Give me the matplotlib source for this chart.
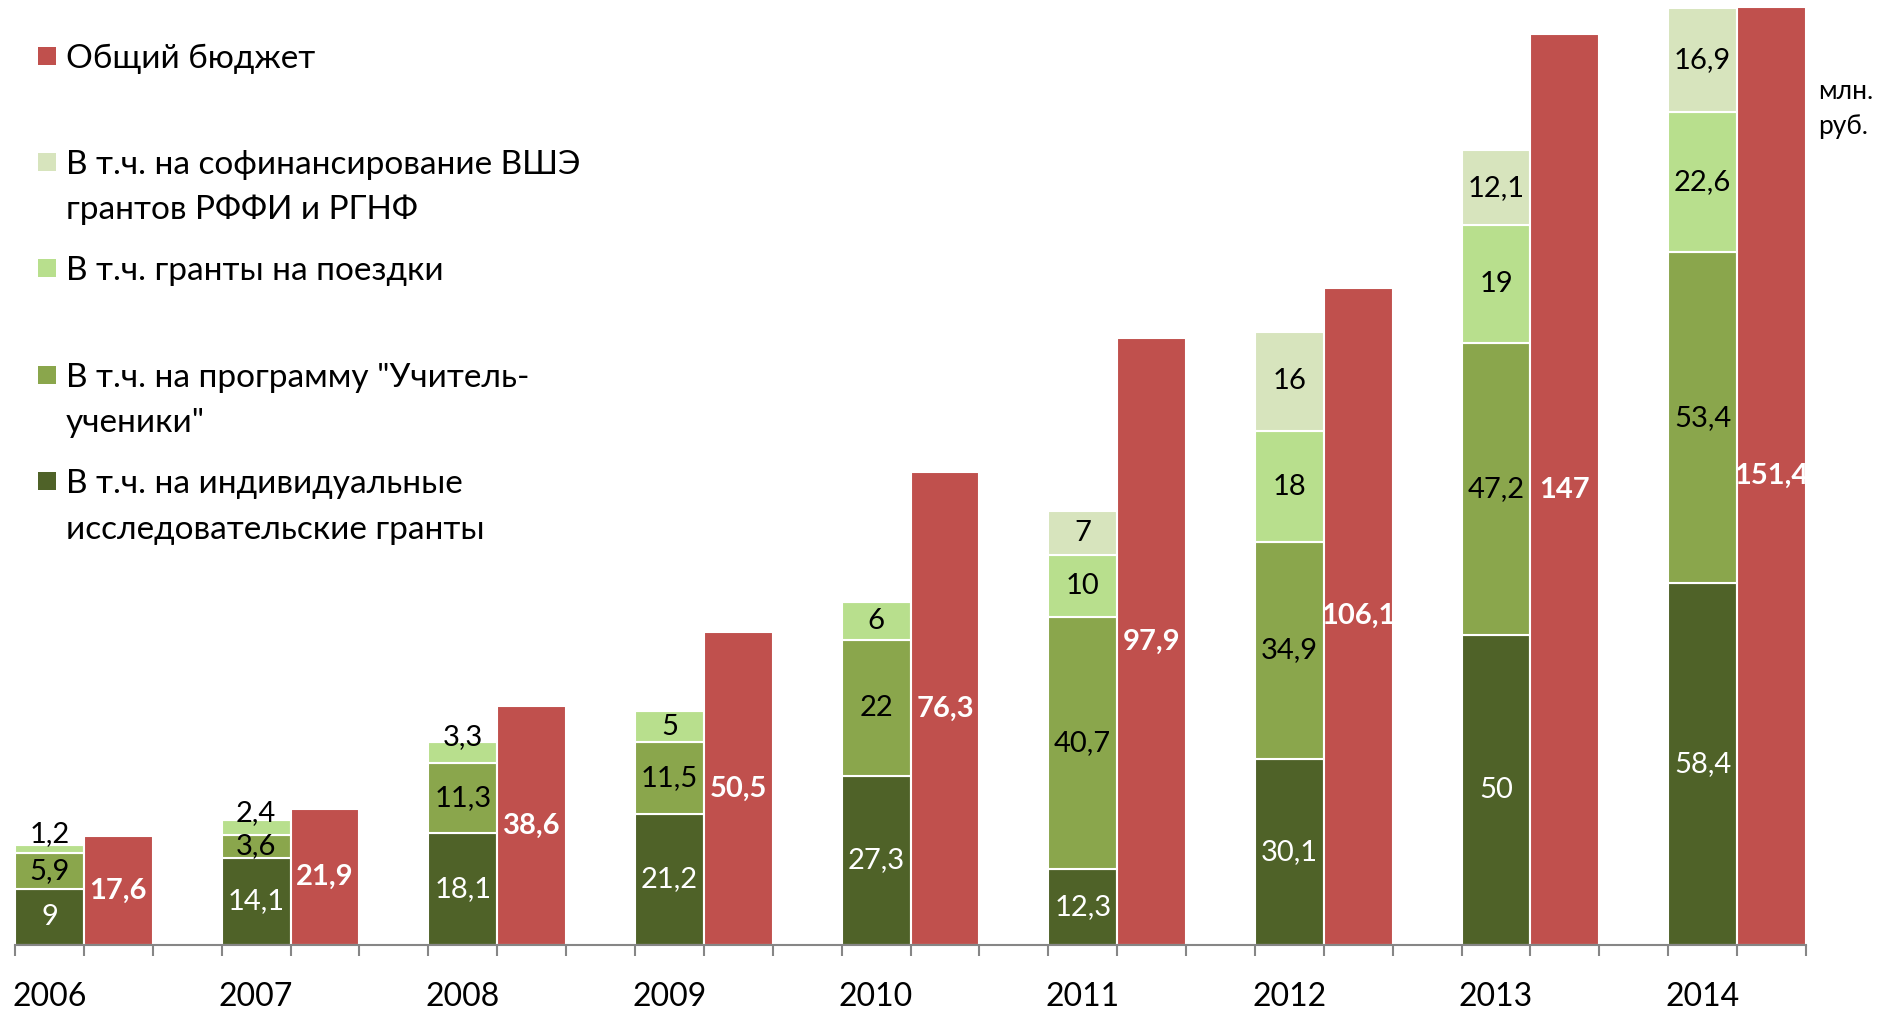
import matplotlib
matplotlib.use("Agg")
import matplotlib.pyplot as plt
from matplotlib.patches import Rectangle
import matplotlib.transforms as mtransforms

plt.rcParams['font.family'] = ['Lato', 'DejaVu Sans']

years = ['2006', '2007', '2008', '2009', '2010', '2011', '2012', '2013', '2014']
individual = [9, 14.1, 18.1, 21.2, 27.3, 12.3, 30.1, 50, 58.4]
teacher = [5.9, 3.6, 11.3, 11.5, 22, 40.7, 34.9, 47.2, 53.4]
trips = [1.2, 2.4, 3.3, 5, 6, 10, 18, 19, 22.6]
cofin = [0, 0, 0, 0, 0, 7, 16, 12.1, 16.9]
total = [17.6, 21.9, 38.6, 50.5, 76.3, 97.9, 106.1, 147, 151.4]

legend_labels = [
    ['Общий бюджет'],
    ['В т.ч. на софинансирование ВШЭ', 'грантов РФФИ и РГНФ'],
    ['В т.ч. гранты на поездки'],
    ['В т.ч. на программу "Учитель-', 'ученики"'],
    ['В т.ч. на индивидуальные', 'исследовательские гранты'],
]
unit_label = ['млн.', 'руб.']

c_red = '#C0504D'
c_dark = '#4F6228'
c_mid = '#8AA64C'
c_light = '#B8DF8D'
c_pale = '#D7E4BD'

W, H = 1878, 1009
fig = plt.figure(figsize=(W / 100, H / 100), dpi=100)
fig.patch.set_facecolor('white')

left, right, bottom, top = 15, 1806, 945, 7
ax = fig.add_axes([left / W, (H - bottom) / H, (right - left) / W, (bottom - top) / H])
ax.set_xlim(0, 26)
ax.set_ylim(0, 151.4)

def fmt(v):
    return ('{:g}'.format(v)).replace('.', ',')

stack_x = [3 * i + 0.5 for i in range(len(years))]
red_x = [3 * i + 1.5 for i in range(len(years))]

series = [(individual, c_dark, 'white'), (teacher, c_mid, 'black'),
          (trips, c_light, 'black'), (cofin, c_pale, 'black')]
base = [0.0] * len(years)
for vals, col, tcol in series:
    ax.bar(stack_x, vals, width=1.0, bottom=base, color=col, edgecolor='white', linewidth=1.5, zorder=2)
    for x, b, v in zip(stack_x, base, vals):
        if v > 0:
            dy = 11 if v < 4 and col == c_light else 0
            ax.annotate(fmt(v), (x, b + v / 2), xytext=(0, dy), textcoords='offset points',
                        ha='center', va='center', color=tcol, fontsize=21, zorder=4,
                        annotation_clip=False)
    base = [b + v for b, v in zip(base, vals)]

ax.bar(red_x, total, width=1.0, color=c_red, edgecolor='white', linewidth=1.5, zorder=2)
for x, v in zip(red_x, total):
    ax.text(x, v / 2, fmt(v), ha='center', va='center', color='white', fontsize=21,
            fontweight='bold', zorder=5, clip_on=False)

for s in ['top', 'right', 'left']:
    ax.spines[s].set_visible(False)
ax.spines['bottom'].set_color('#868686')
ax.spines['bottom'].set_linewidth(1.5)
ax.set_xticks(range(27))
ax.set_xticklabels([])
ax.tick_params(axis='x', length=8, width=1.5, color='#868686', direction='out')
ax.set_yticks([])
ax.patch.set_alpha(0)

trans = mtransforms.blended_transform_factory(ax.transData, fig.transFigure)
for x, y in zip(stack_x, years):
    ax.text(x, 1 - 1006 / H, y, transform=trans, ha='center', va='baseline', fontsize=23, clip_on=False)

# legend
leg_colors = [c_red, c_pale, c_light, c_mid, c_dark]
leg_y = [[56], [162, 207], [268], [375, 420], [481, 527]]
for col, ys, lines in zip(leg_colors, leg_y, legend_labels):
    y0 = ys[0]
    fig.patches.append(Rectangle((38 / W, 1 - (y0 + 9) / H), 18 / W, 18 / H, transform=fig.transFigure,
                                 facecolor=col, edgecolor='none'))
    for y, line in zip(ys, lines):
        fig.text(66 / W, 1 - (y + 12) / H, line, ha='left', va='baseline', fontsize=24)

for y, line in zip([90, 125], unit_label):
    fig.text(1818 / W, 1 - (y + 9) / H, line, ha='left', va='baseline', fontsize=19)

fig.savefig('out.png', dpi=100, facecolor='white')
